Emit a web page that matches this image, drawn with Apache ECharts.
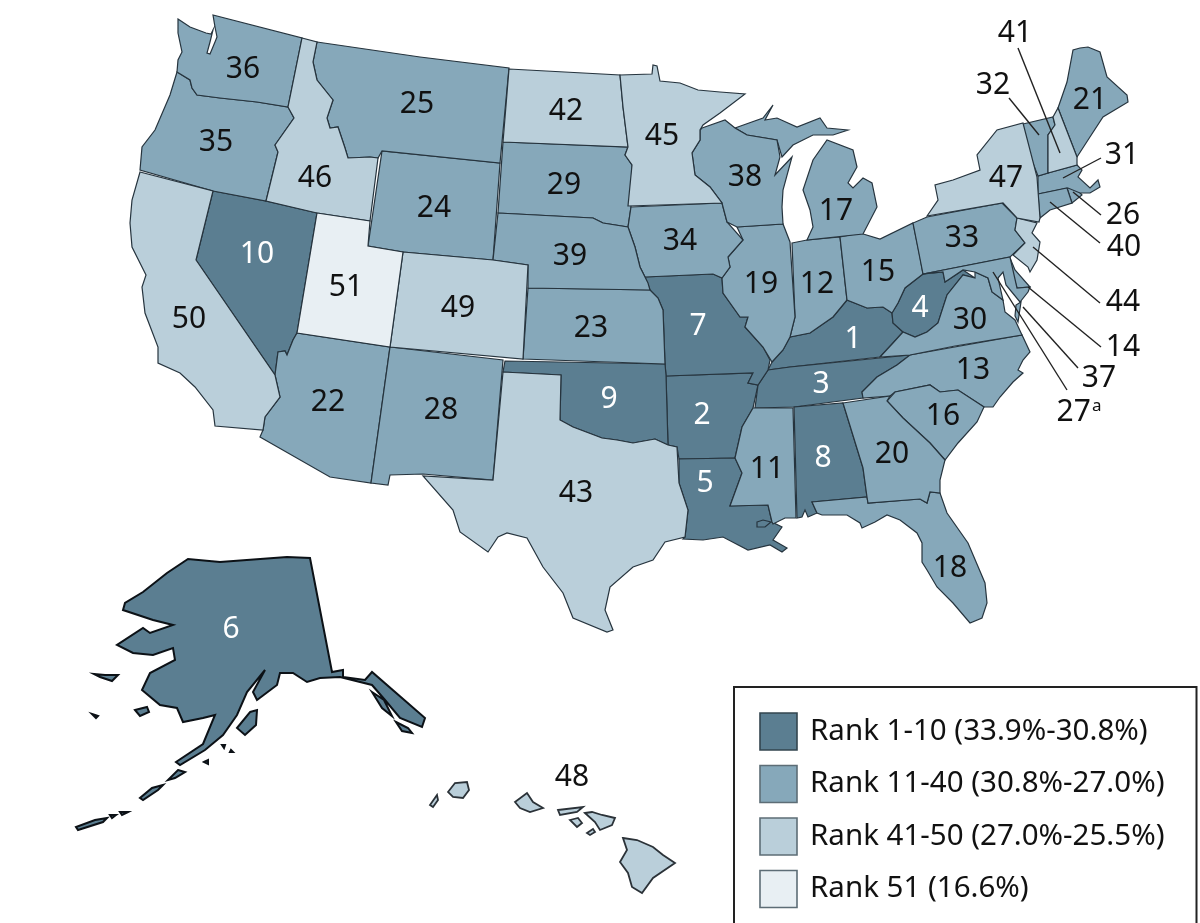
<!DOCTYPE html>
<html>
<head>
<meta charset="utf-8">
<title>Rank by state</title>
<style>
html, body { margin: 0; padding: 0; background: #fff; }
#chart { width: 1200px; height: 923px; }
</style>
<script src="https://cdn.jsdelivr.net/npm/echarts@6/dist/echarts.min.js"></script>
</head>
<body>
<div id="chart"></div>
<script>
// chart values
const stateNames = ['Kentucky', 'Arkansas', 'Tennessee', 'West Virginia', 'Louisiana', 'Alaska', 'Missouri', 'Alabama', 'Oklahoma', 'Nevada',
    'Mississippi', 'Indiana', 'North Carolina', 'Delaware', 'Ohio', 'South Carolina', 'Michigan', 'Florida', 'Illinois', 'Georgia',
    'Maine', 'Arizona', 'Kansas', 'Wyoming', 'Montana', 'Rhode Island', 'District of Columbia', 'New Mexico', 'South Dakota', 'Virginia',
    'Massachusetts', 'Vermont', 'Pennsylvania', 'Iowa', 'Oregon', 'Washington', 'Maryland', 'Wisconsin', 'Nebraska', 'Connecticut',
    'New Hampshire', 'North Dakota', 'Texas', 'New Jersey', 'Minnesota', 'Idaho', 'New York', 'Hawaii', 'Colorado', 'California', 'Utah'];
const stateRanks = [1, 2, 3, 4, 5, 6, 7, 8, 9, 10,
    11, 12, 13, 14, 15, 16, 17, 18, 19, 20,
    21, 22, 23, 24, 25, 26, 27, 28, 29, 30,
    31, 32, 33, 34, 35, 36, 37, 38, 39, 40,
    41, 42, 43, 44, 45, 46, 47, 48, 49, 50, 51];
const bandLabels = ['Rank 1-10 (33.9%-30.8%)', 'Rank 11-40 (30.8%-27.0%)', 'Rank 41-50 (27.0%-25.5%)', 'Rank 51 (16.6%)'];
const bandFirstRank = [1, 11, 41, 51];
const bandLastRank = [10, 40, 50, 51];
const footnotedRanks = { 27: 'a' };

const bandColors = ['#5b7e91', '#86a8ba', '#bacfda', '#e8eff3'];
const fontName = '"Noto Sans", sans-serif';

// map outlines, traced in picture pixels: one string for each polygon
const stateShapes = {
    'Washington': ['178,19 190,27 206,33 211,34 213,30 210,42 207,53 210,54 215,42 217,37 215,27 213,15 302,38 288,107 257,102 220,98 197,95 192,88 190,80 177,72 178,60 182,52 178,33'],
    'Oregon': ['177,72 190,80 192,88 197,95 220,98 257,102 288,107 294,118 275,145 278,152 266,201 213,191 140,170 142,147 155,130 170,95'],
    'Idaho': ['302,38 317,42 313,62 317,80 333,100 327,118 330,128 338,127 345,148 348,158 370,157 378,158 370,221 317,213 266,201 278,152 275,145 294,118 288,107'],
    'Montana': ['317,42 420,57 509,68 500,163 382,151 378,158 370,157 348,158 345,148 338,127 330,128 327,118 333,100 317,80 313,62'],
    'Wyoming': ['382,151 500,163 493,260 403,252 368,246'],
    'Utah': ['317,213 370,221 368,246 403,252 390,347 297,333'],
    'Colorado': ['403,252 493,260 528,265 523,359 390,347'],
    'Nevada': ['213,191 266,201 317,213 297,333 293,340 287,355 285,351 278,352 275,375 196,260'],
    'California': ['140,172 213,191 196,260 275,375 280,397 265,417 263,430 215,426 213,410 195,387 180,373 158,363 158,347 145,313 142,287 146,275 132,247 130,223 132,200'],
    'Arizona': ['297,333 390,347 371,483 330,477 260,437 263,430 265,417 280,397 275,375 278,352 285,351 287,355 293,340'],
    'New Mexico': ['390,347 503,360 493,480 423,474 390,475 388,485 371,483'],
    'Texas': ['503,372 561,375 560,420 573,427 602,438 617,440 633,443 655,439 668,445 677,447 679,483 688,510 685,537 665,542 653,560 633,567 610,587 605,610 613,630 607,632 573,618 563,593 543,567 527,538 507,533 498,537 488,552 460,532 453,510 423,476 493,480'],
    'Oklahoma': ['505,361 665,364 666,375 668,445 655,439 633,443 617,440 602,438 573,427 560,420 561,375 503,372'],
    'Kansas': ['528,288 650,290 658,298 663,310 665,364 523,359'],
    'Nebraska': ['498,213 593,218 603,223 628,227 635,247 640,267 648,283 650,290 528,288 528,265 493,260'],
    'South Dakota': ['503,142 628,147 625,155 632,165 631,207 628,227 603,223 593,218 498,213'],
    'North Dakota': ['509,69 620,75 623,107 628,147 503,142'],
    'Minnesota': ['620,75 652,74 653,65 657,66 660,81 680,83 698,90 720,92 745,94 720,113 703,125 700,130 700,140 692,153 695,175 710,187 722,203 628,206 632,165 625,155 628,147 623,107'],
    'Iowa': ['631,207 722,203 727,222 743,240 728,257 730,267 722,278 713,274 645,277 640,267 635,247 628,227'],
    'Missouri': ['645,277 713,274 722,278 723,293 740,317 748,317 745,327 763,347 770,360 768,370 758,385 748,383 753,373 666,376 665,364 663,310 658,298 650,290'],
    'Arkansas': ['666,376 753,373 748,383 758,385 753,408 742,427 735,458 679,459 677,447 668,445'],
    'Louisiana': ['679,459 735,458 742,473 730,506 768,505 772,522 782,527 773,540 787,548 782,552 770,545 748,550 723,537 703,540 683,539 685,537 688,510 679,483'],
    'Mississippi': ['753,408 793,408 796,518 785,518 773,524 772,522 768,505 730,506 742,473 735,458 742,427'],
    'Alabama': ['794,407 843,403 863,468 867,497 812,502 817,513 808,517 805,510 802,517 797,518'],
    'Georgia': ['843,403 890,396 887,401 903,418 930,443 945,460 940,480 940,493 930,492 927,503 920,499 868,503 867,497 863,468'],
    'South Carolina': ['887,401 895,392 930,385 940,392 958,390 984,407 977,422 958,443 945,460 930,443 903,418'],
    'Florida': ['812,502 867,497 868,503 920,499 927,503 930,492 940,493 947,513 968,543 985,583 987,603 982,618 970,623 953,603 937,587 927,570 922,562 922,543 917,533 900,520 887,515 875,522 862,528 860,523 847,515 822,515 817,513'],
    'Tennessee': ['768,370 790,367 910,355 897,365 877,377 862,392 863,398 794,407 755,408 758,385'],
    'Kentucky': ['768,370 772,362 783,350 790,337 810,333 833,317 847,300 867,308 883,307 892,313 893,323 903,332 893,343 880,357 790,367'],
    'Illinois': ['737,227 783,224 790,242 795,317 790,337 783,350 772,362 763,347 745,327 748,317 740,317 723,293 722,278 730,267 728,257 743,240'],
    'Indiana': ['792,243 807,240 840,237 847,300 833,317 810,333 790,337 795,317'],
    'Ohio': ['840,237 860,233 880,239 913,223 920,257 923,274 905,288 898,303 892,313 883,307 867,308 847,300'],
    'Michigan': ['807,240 813,227 810,210 803,190 813,160 827,140 853,150 857,167 848,183 853,188 863,178 872,183 877,207 863,234',
        '735,128 763,118 773,105 765,120 777,118 797,127 820,118 827,128 848,130 833,135 813,135 793,145 782,157 777,140 747,135'],
    'Wisconsin': ['702,128 725,120 735,128 747,135 777,140 780,157 775,175 792,157 783,190 782,207 783,224 737,227 727,222 722,203 710,187 695,175 692,153 700,140 700,130'],
    'Pennsylvania': ['927,217 1002,203 1017,218 1015,230 1025,243 1010,257 923,274 913,223'],
    'New York': ['927,216 938,200 935,185 953,180 980,170 977,155 997,130 1023,123 1037,177 1040,218 1039,222 1017,218 1003,203'],
    'Vermont': ['1023,124 1053,117 1055,125 1048,135 1048,173 1038,176 1025,143'],
    'New Hampshire': ['1053,117 1058,108 1077,157 1077,165 1048,173 1048,135 1055,125'],
    'Maine': ['1058,108 1067,82 1073,50 1080,48 1088,47 1100,52 1107,77 1127,95 1128,102 1103,117 1088,140 1077,157'],
    'Massachusetts': ['1038,176 1048,173 1077,165 1082,170 1078,177 1090,188 1098,180 1100,187 1090,193 1080,193 1068,188 1038,194'],
    'Connecticut': ['1038,194 1067,188 1072,203 1050,210 1040,218'],
    'Rhode Island': ['1067,188 1075,187 1082,195 1072,203'],
    'New Jersey': ['1017,218 1037,223 1032,233 1040,242 1037,260 1030,272 1028,267 1013,255 1025,243 1015,230'],
    'Delaware': ['1010,258 1015,270 1030,287 1017,288 1008,260'],
    'Maryland': ['923,274 1010,257 1017,288 1030,287 1028,292 1020,302 1006,285 1003,272 998,278 1003,300 992,292 988,278 975,272 963,270 945,282 943,272'],
    'District of Columbia': ['990,270 995,272 993,276 989,274'],
    'West Virginia': ['923,274 943,272 945,282 963,270 975,278 963,275 947,295 938,323 927,332 915,337 903,332 893,323 892,313 898,303 905,288'],
    'Virginia': ['880,357 893,343 903,332 915,337 927,332 938,323 947,295 963,275 975,278 975,272 988,278 992,292 1003,300 1005,312 1015,320 1022,335 955,346 910,355',
        '1021,302 1018,322 1015,316 1016,305'],
    'North Carolina': ['910,355 1022,335 1030,352 1023,360 1018,370 1023,373 1013,382 1000,397 993,407 984,407 958,390 940,392 930,385 895,392 890,396 863,398 862,392 877,377 897,365'],
    'Alaska': ['310,558 332,672 343,670 343,677 365,680 372,672 425,718 422,727 400,718 385,700 372,685 340,677 320,678 307,682 293,673 280,673 277,685 257,700 253,692 265,670 247,692 237,715 223,735 205,750 180,765 176,762 203,744 215,715 203,718 183,722 177,708 160,705 142,690 150,673 175,660 173,648 153,655 133,653 117,645 143,628 150,633 173,625 153,620 123,610 125,603 143,592 167,573 188,559 220,562 287,557',
        '178,770 185,772 175,778 168,780', '163,785 158,790 143,800 140,798 152,788', '107,818 103,822 78,830 76,827 95,820',
        '135,710 147,707 149,712 140,716', '94,674 105,675 118,675 112,681 100,677', '92,714 98,716 96,718',
        '250,712 257,710 256,725 245,735 237,728', '128,812 122,815 120,812', '116,815 112,818 110,815',
        '372,692 384,700 392,716 382,708', '396,722 408,728 412,733 402,731', '204,762 208,760 208,764', '222,745 225,745 224,748', '231,750 233,752 230,752'],
    'Hawaii': ['430,805 437,795 438,800 433,807', '448,792 455,783 467,782 469,790 463,798 453,797',
        '515,802 527,793 533,802 543,808 530,812 520,808', '558,810 583,807 577,812 560,815',
        '570,820 578,818 582,823 577,827', '585,813 592,812 602,815 615,818 612,825 600,830 595,822',
        '587,833 593,829 595,832 590,835',
        '623,838 637,840 653,847 663,855 675,863 653,878 642,893 632,887 628,873 620,862 627,850']
};
// lake inside Louisiana
const louisianaLake = '757,522 763,520 771,522 765,527 757,527';

// label anchors in the same pixels
const labelAnchors = {
    'Washington': [243, 67], 'Montana': [417, 102], 'Oregon': [216, 140], 'Idaho': [315, 176], 'North Dakota': [566, 109],
    'Minnesota': [662, 134], 'Wisconsin': [745, 175], 'Michigan': [836, 209], 'New York': [1006, 176], 'Maine': [1090, 98],
    'South Dakota': [564, 183], 'Wyoming': [434, 206], 'Nevada': [257, 252], 'Utah': [346, 285], 'Colorado': [458, 306],
    'California': [189, 317], 'Nebraska': [570, 254], 'Iowa': [680, 239], 'Illinois': [761, 282], 'Indiana': [817, 282],
    'Ohio': [878, 270], 'Pennsylvania': [962, 236], 'Kansas': [591, 326], 'Missouri': [698, 324], 'West Virginia': [920, 306],
    'Kentucky': [853, 337], 'Virginia': [970, 318], 'Arizona': [328, 400], 'New Mexico': [441, 408], 'Oklahoma': [609, 397],
    'Arkansas': [702, 413], 'Tennessee': [821, 382], 'North Carolina': [973, 368], 'South Carolina': [943, 414], 'Georgia': [892, 452],
    'Alabama': [823, 456], 'Mississippi': [767, 467], 'Louisiana': [705, 481], 'Texas': [576, 491], 'Florida': [950, 566],
    'Alaska': [231, 627], 'Hawaii': [572, 775], 'Vermont': [993, 83], 'New Hampshire': [1015, 31], 'Massachusetts': [1122, 153],
    'Rhode Island': [1123, 213], 'Connecticut': [1124, 245], 'New Jersey': [1123, 300], 'Delaware': [1123, 345], 'Maryland': [1099, 376],
    'District of Columbia': [1079, 410]
};
// leader lines for the small states
const leaderLines = [
    [[1009, 98], [1039, 135]], [[1018, 48], [1060, 153]], [[1101, 158], [1063, 178]],
    [[1101, 215], [1073, 192]], [[1100, 243], [1050, 202]], [[1100, 303], [1033, 247]],
    [[1101, 347], [1028, 287]], [[1078, 368], [1023, 307]], [[1067, 390], [993, 272]]
];

function parseRing(text) {
    return text.split(' ').map(function (pair) {
        return pair.split(',').map(Number);
    });
}

// 把轮廓拼成 geojson
const features = stateNames.map(function (name) {
    const polygons = stateShapes[name].map(function (ring) {
        return [parseRing(ring)];
    });
    if (name === 'Louisiana') {
        polygons[0].push(parseRing(louisianaLake));
    }
    return {
        type: 'Feature',
        properties: { name: name, cp: labelAnchors[name] },
        geometry: { type: 'MultiPolygon', coordinates: polygons }
    };
});
echarts.registerMap('states', { type: 'FeatureCollection', features: features });

// picture pixels are the map coordinates
const flatProjection = {
    project: function (p) { return [p[0], p[1]]; },
    unproject: function (p) { return [p[0], p[1]]; }
};
const mapLayout = {
    map: 'states',
    projection: flatProjection,
    boundingCoords: [[0, 0], [1200, 923]],
    left: 0,
    top: 0,
    width: 1200,
    height: 923,
    roam: false,
    silent: true
};

// legend box
const legendLeft = 733;
const legendTop = 686;
const swatchSize = 37;
const swatchGap = 15.5;
const legendPad = 26;

// the piecewise legend gives no edge to its swatches, so outline them here
const swatchOutlines = bandLabels.map(function (label, i) {
    return {
        type: 'rect',
        silent: true,
        z: 100,
        shape: {
            x: legendLeft + legendPad + 1,
            y: legendTop + legendPad + 1 + i * (swatchSize + swatchGap),
            width: swatchSize,
            height: swatchSize
        },
        style: { fill: 'none', stroke: i === 0 ? '#33454f' : '#5d6d76', lineWidth: 1.6 }
    };
});

const myChart = echarts.init(document.getElementById('chart'));
const option = {
    backgroundColor: '#fff',
    animation: false,
    graphic: swatchOutlines,
    geo: Object.assign({}, mapLayout, {
        itemStyle: { areaColor: 'transparent', borderWidth: 0 },
        label: { show: false },
        emphasis: { disabled: true }
    }),
    visualMap: {
        type: 'piecewise',
        seriesIndex: 0,
        orient: 'vertical',
        inverse: true,
        align: 'left',
        left: legendLeft,
        top: legendTop,
        padding: [legendPad, 32, 30, legendPad],
        itemWidth: swatchSize,
        itemHeight: swatchSize,
        itemGap: swatchGap,
        textGap: 13,
        itemSymbol: 'rect',
        selectedMode: false,
        hoverLink: false,
        backgroundColor: '#fff',
        borderColor: '#222',
        borderWidth: 2,
        textStyle: { color: '#111', fontFamily: fontName, fontSize: 29.5 },
        pieces: bandLabels.map(function (label, i) {
            return { min: bandFirstRank[i], max: bandLastRank[i], label: label, color: bandColors[i] };
        })
    },
    series: [
        Object.assign({}, mapLayout, {
            type: 'map',
            itemStyle: { borderColor: '#26343e', borderWidth: 1.2 },
            emphasis: { disabled: true },
            selectedMode: false,
            label: {
                show: true,
                offset: [0, 2],
                fontFamily: fontName,
                fontSize: 30,
                color: '#111',
                formatter: function (p) {
                    const note = footnotedRanks[p.value];
                    return note ? p.value + '{sup|' + note + '}' : String(p.value);
                },
                rich: {
                    sup: { fontFamily: fontName, fontSize: 17, color: '#111', padding: [0, 0, 12, 1] }
                }
            },
            data: stateNames.map(function (name, i) {
                const item = { name: name, value: stateRanks[i], label: { color: stateRanks[i] <= 10 ? '#fff' : '#111' } };
                // the two inset states have a rougher, heavier edge
                if (name === 'Alaska') {
                    item.itemStyle = { borderColor: '#0c1116', borderWidth: 2 };
                } else if (name === 'Hawaii') {
                    item.itemStyle = { borderColor: '#2b3238', borderWidth: 1.8 };
                }
                return item;
            })
        }),
        {
            type: 'lines',
            coordinateSystem: 'geo',
            geoIndex: 0,
            silent: true,
            z: 5,
            lineStyle: { color: '#222', width: 1.4, opacity: 1, curveness: 0 },
            data: leaderLines
        }
    ]
};
myChart.setOption(option);
</script>
</body>
</html>
